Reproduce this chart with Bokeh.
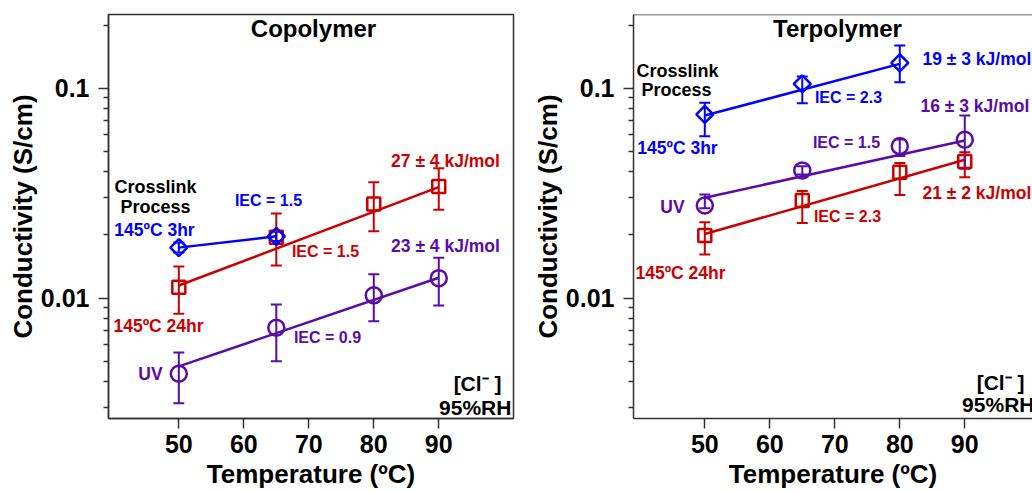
import math
from bokeh.plotting import figure
from bokeh.models import (Label, Whisker, TeeHead, ColumnDataSource, Range1d,
                          FixedTicker, Span, CustomJSTickFormatter)
from bokeh.layouts import row
from bokeh.embed import file_html
from bokeh.resources import INLINE

# ---------------- data ----------------
# Copolymer
cop_T = [50, 65, 80, 90]
cop_3hr_T = [50, 65]
cop_3hr = [0.0174, 0.0197]
cop_3hr_hi = [0.0184, 0.0207]
cop_3hr_lo = [0.0165, 0.0187]
cop_24hr = [0.01127, 0.0195, 0.0281, 0.0340]
cop_24hr_hi = [0.01416, 0.0253, 0.0356, 0.0416]
cop_24hr_lo = [0.00843, 0.0143, 0.0208, 0.0264]
cop_uv = [0.00436, 0.00723, 0.01031, 0.01245]
cop_uv_hi = [0.0055, 0.00933, 0.0130, 0.01556]
cop_uv_lo = [0.00316, 0.00501, 0.00775, 0.00922]
cop_fit_T = [50, 90]
cop_24hr_fit = [0.01148, 0.0338]
cop_uv_fit = [0.00473, 0.0125]

# Terpolymer
ter_T = [50, 65, 80, 90]
ter_3hr_T = [50, 65, 80]
ter_3hr = [0.0750, 0.105, 0.132]
ter_3hr_hi = [0.0852, 0.1137, 0.1596]
ter_3hr_lo = [0.059, 0.0848, 0.1068]
ter_uv = [0.0276, 0.0406, 0.053, 0.0568]
ter_uv_hi = [0.0312, 0.0425, 0.057, 0.0741]
ter_uv_lo = [0.0268, 0.0388, 0.0475, 0.0413]
ter_24hr = [0.01986, 0.0292, 0.0398, 0.0448]
ter_24hr_hi = [0.0230, 0.0324, 0.0440, 0.0496]
ter_24hr_lo = [0.01615, 0.0228, 0.0310, 0.0377]
ter_3hr_fit_T = [50, 80]
ter_3hr_fit = [0.0741, 0.1306]
ter_fit_T = [50, 90]
ter_uv_fit = [0.0301, 0.0563]
ter_24hr_fit = [0.0202, 0.0456]

x_ticks = [50, 60, 70, 80, 90]
y_ticks = [0.01, 0.1]
y_minor = [0.003, 0.004, 0.005, 0.006, 0.007, 0.008, 0.009,
           0.02, 0.03, 0.04, 0.05, 0.06, 0.07, 0.08, 0.09, 0.2]

BLUE = "#0000ff"
RED = "#cc0000"
PURPLE = "#5a0ca8"
AX = "#333333"
FONT = "Liberation Sans"

Y0, Y1 = 0.00267, 0.2245


def make_fig(width, x0, x1, mbl, mbr, outline):
    p = figure(width=width, height=493, x_range=Range1d(x0, x1),
               y_range=Range1d(Y0, Y1), y_axis_type="log",
               output_backend="svg", toolbar_location=None,
               min_border_left=mbl, min_border_right=mbr,
               min_border_top=14, min_border_bottom=75,
               x_axis_label="Temperature (ºC)",
               y_axis_label="Conductivity (S/cm)")
    p.grid.visible = False
    p.outline_line_color = AX if outline else None
    p.outline_line_width = 1.5
    p.outline_line_alpha = 1
    for ax in (p.xaxis[0], p.yaxis[0]):
        ax.axis_line_color = AX
        ax.axis_line_width = 1.5
        ax.major_tick_line_color = AX
        ax.minor_tick_line_color = AX
        ax.major_tick_line_width = 1.5
        ax.minor_tick_line_width = 1.5
        ax.major_tick_in = 0
        ax.major_tick_out = 10
        ax.minor_tick_in = 0
        ax.minor_tick_out = 5
        ax.major_label_text_font = FONT
        ax.major_label_text_font_style = "bold"
        ax.major_label_text_font_size = "25px"
        ax.major_label_text_color = "black"
        ax.axis_label_text_font = FONT
        ax.axis_label_text_font_style = "bold"
        ax.axis_label_text_font_size = "26px"
        ax.axis_label_text_color = "black"
    p.xaxis.ticker = FixedTicker(ticks=x_ticks, minor_ticks=[])
    p.xaxis.major_label_standoff = 6
    p.xaxis.axis_label_standoff = 3
    p.yaxis.ticker = FixedTicker(ticks=y_ticks, minor_ticks=y_minor)
    p.yaxis.formatter = CustomJSTickFormatter(
        code="return String(Number(tick.toPrecision(3)));")
    p.yaxis.major_label_standoff = 9
    p.yaxis.axis_label_standoff = 0
    if not outline:
        p.add_layout(Span(location=Y1, dimension="width", line_color=AX,
                          line_width=1.5))
    return p


def errbars(p, xs, lo, hi, color):
    src = ColumnDataSource(dict(x=xs, lo=lo, hi=hi))
    w = Whisker(base="x", upper="hi", lower="lo", source=src,
                line_color=color, line_width=2,
                upper_head=TeeHead(size=11, line_color=color, line_width=2),
                lower_head=TeeHead(size=11, line_color=color, line_width=2))
    p.add_layout(w)


def series(p, xs, ys, lo, hi, fx, fy, color, marker):
    p.line(fx, fy, line_color=color, line_width=2.5)
    errbars(p, xs, lo, hi, color)
    if marker == "diamond":
        p.scatter(xs, ys, marker="square", angle=math.pi / 4, size=12,
                  fill_color=None, line_color=color, line_width=2.5)
    elif marker == "square":
        p.scatter(xs, ys, marker="square", size=13,
                  fill_color=None, line_color=color, line_width=2.5)
    else:
        p.scatter(xs, ys, marker="circle", size=16,
                  fill_color=None, line_color=color, line_width=2.5)


def labeler(p, x50_page):
    def to_data(px, py):
        return 50 + (px - x50_page) / 6.5, 10 ** (-1 - (py - 87.7) / 210.0)

    def lab(text, px, py, color="black", size="17.5px", align="center"):
        x, y = to_data(px, py)
        p.add_layout(Label(x=x, y=y, text=text, text_color=color,
                           text_font=FONT, text_font_style="bold",
                           text_font_size=size, text_align=align,
                           text_baseline="middle"))
    return lab


# ---------------- Copolymer ----------------
p1 = make_fig(520, 39.18, 101.5, 108, 7, True)
series(p1, cop_T, cop_24hr, cop_24hr_lo, cop_24hr_hi, cop_fit_T, cop_24hr_fit, RED, "square")
series(p1, cop_T, cop_uv, cop_uv_lo, cop_uv_hi, cop_fit_T, cop_uv_fit, PURPLE, "circle")
series(p1, cop_3hr_T, cop_3hr, cop_3hr_lo, cop_3hr_hi, cop_3hr_T, cop_3hr, BLUE, "diamond")

l1 = labeler(p1, 178.3)
l1("Copolymer", 313, 28, size="24px")
l1("Crosslink", 155, 187, size="18px")
l1("Process", 155, 207, size="18px")
l1("145ºC 3hr", 154, 230, BLUE)
l1("IEC = 1.5", 268, 200, BLUE, "16px")
l1("27 ± 4 kJ/mol", 445, 161, RED)
l1("IEC = 1.5", 325, 251, RED, "16px")
l1("23 ± 4 kJ/mol", 445, 246, PURPLE)
l1("145ºC 24hr", 158, 326, RED)
l1("IEC = 0.9", 327, 337, PURPLE, "16px")
l1("UV", 150, 374, PURPLE)
l1("[Cl\u207b ]", 501, 383, size="21px", align="right")
l1("95%RH", 511, 407, size="21px", align="right")

# ---------------- Terpolymer ----------------
p2 = make_fig(512, 39.03, 100.42, 113, 0, False)
series(p2, ter_T, ter_24hr, ter_24hr_lo, ter_24hr_hi, ter_fit_T, ter_24hr_fit, RED, "square")
series(p2, ter_T, ter_uv, ter_uv_lo, ter_uv_hi, ter_fit_T, ter_uv_fit, PURPLE, "circle")
series(p2, ter_3hr_T, ter_3hr, ter_3hr_lo, ter_3hr_hi, ter_3hr_fit_T, ter_3hr_fit, BLUE, "diamond")

l2 = labeler(p2, 704.3)
l2("Terpolymer", 837, 28, size="24px")
l2("Crosslink", 677, 70, size="18px")
l2("Process", 676, 89, size="18px")
l2("145ºC 3hr", 677, 148, BLUE)
l2("IEC = 2.3", 848, 97, BLUE, "16px")
l2("19 ± 3 kJ/mol", 922, 58, BLUE, align="left")
l2("16 ± 3 kJ/mol", 920, 105, PURPLE, align="left")
l2("IEC = 1.5", 846, 142, PURPLE, "16px")
l2("21 ± 2 kJ/mol", 922, 193, RED, align="left")
l2("UV", 672, 207, PURPLE)
l2("IEC = 2.3", 847, 216, RED, "16px")
l2("145ºC 24hr", 680, 273, RED)
l2("[Cl\u207b ]", 1024, 382, size="21px", align="right")
l2("95%RH", 1034, 404, size="21px", align="right")

layout = row(p1, p2)
open("out.html", "w").write(file_html(layout, INLINE))
